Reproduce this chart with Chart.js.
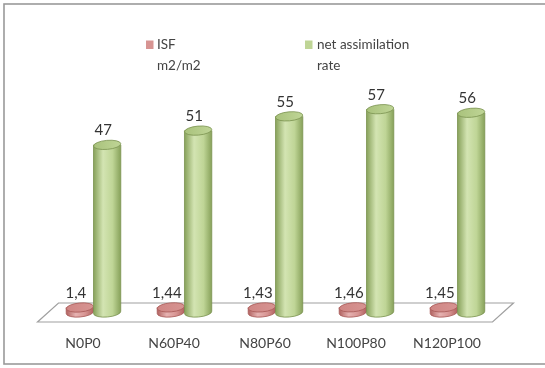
<!DOCTYPE html>
<html>
<head>
<meta charset="utf-8">
<script src="https://cdn.jsdelivr.net/npm/chart.js@4/dist/chart.umd.min.js"></script>
<style>
  html, body { margin: 0; padding: 0; background: #fff; }
  #wrap { width: 545px; height: 368px; position: relative; }
</style>
</head>
<body>
<div id="wrap"><canvas id="c" width="545" height="368"></canvas></div>
<script>
// Treatments (N/P fertiliser doses)
const categories = ['N0P0', 'N60P40', 'N80P60', 'N100P80', 'N120P100'];
// Leaf area index (ISF, m2/m2)
const isfValues = [1.4, 1.44, 1.43, 1.46, 1.45];
// Net assimilation rate
const narValues = [47, 51, 55, 57, 56];
// Legend text, wrapped as drawn
const isfLegend = ['ISF', 'm2/m2'];
const narLegend = ['net assimilation', 'rate'];
// Value labels use a decimal comma
const fmt = v => String(v).replace('.', ',');

const FONT = 'Lato, "Open Sans", sans-serif';
const DEPTH = 10.5;   // half depth of the floor, horizontal shift
const DEPTH_Y = 9.5;  // half depth of the floor, vertical shift

const palette = [
  { light: '#e6b3b2', mid: '#d79492', dark: '#b0615f', top: '#cf8684', line: '#a75856' },
  { light: '#d3e4b2', mid: '#bfd596', dark: '#87a15a', top: '#a9c27c', line: '#7a924f' }
];

function cylinder(ctx, x, top, base, w, c) {
  const rx = w / 2, ry = 4.5, tilt = -0.09;
  const l = x - rx, r = x + rx;
  // body with horizontal shading
  const g = ctx.createLinearGradient(l, 0, r, 0);
  g.addColorStop(0, c.dark);
  g.addColorStop(0.35, c.light);
  g.addColorStop(0.7, c.mid);
  g.addColorStop(1, c.dark);
  ctx.beginPath();
  ctx.moveTo(l, top);
  ctx.lineTo(l, base);
  ctx.ellipse(x, base, rx, ry, tilt, Math.PI, 0, true);
  ctx.lineTo(r, top);
  ctx.closePath();
  ctx.fillStyle = g;
  ctx.fill();
  ctx.strokeStyle = c.line;
  ctx.lineWidth = 0.8;
  ctx.beginPath();
  ctx.moveTo(l, top); ctx.lineTo(l, base);
  ctx.ellipse(x, base, rx, ry, tilt, Math.PI, 0, true);
  ctx.lineTo(r, top);
  ctx.stroke();
  // top cap
  ctx.beginPath();
  ctx.ellipse(x, top, rx, ry, tilt, 0, Math.PI * 2);
  const tg = ctx.createLinearGradient(l, 0, r, 0);
  tg.addColorStop(0, c.top);
  tg.addColorStop(1, c.mid);
  ctx.fillStyle = tg;
  ctx.fill();
  ctx.stroke();
}

const scene3d = {
  id: 'scene3d',
  beforeDraw(chart) {
    const { ctx, canvas } = chart;
    ctx.save();
    ctx.fillStyle = '#fff';
    ctx.fillRect(0, 0, canvas.width, canvas.height);
    // outer frame
    ctx.strokeStyle = '#9a9a9a';
    ctx.lineWidth = 1.6;
    ctx.strokeRect(4, 4, canvas.width + 10, canvas.height - 8);
    ctx.restore();
  },
  beforeDatasetsDraw(chart) {
    const { ctx, chartArea: a, scales: { y } } = chart;
    const y0 = y.getPixelForValue(0);
    ctx.save();
    ctx.beginPath();
    ctx.moveTo(a.left + DEPTH, y0 - DEPTH_Y);
    ctx.lineTo(a.right + DEPTH, y0 - DEPTH_Y);
    ctx.lineTo(a.right - DEPTH, y0 + DEPTH_Y);
    ctx.lineTo(a.left - DEPTH, y0 + DEPTH_Y);
    ctx.closePath();
    ctx.fillStyle = '#fff';
    ctx.fill();
    ctx.strokeStyle = '#a0a0a0';
    ctx.lineWidth = 1.2;
    ctx.stroke();
    ctx.restore();
  },
  afterDatasetsDraw(chart) {
    const { ctx, scales: { x, y } } = chart;
    ctx.save();
    chart.data.datasets.forEach((ds, di) => {
      const meta = chart.getDatasetMeta(di);
      meta.data.forEach((bar, i) => {
        cylinder(ctx, bar.x, bar.y, bar.base, bar.width, palette[di]);
      });
    });
    // value labels
    ctx.fillStyle = '#333333';
    ctx.font = '15px ' + FONT;
    ctx.textAlign = 'center';
    ctx.textBaseline = 'middle';
    chart.data.datasets.forEach((ds, di) => {
      const meta = chart.getDatasetMeta(di);
      meta.data.forEach((bar, i) => {
        ctx.fillText(fmt(ds.data[i]), bar.x - 4, bar.y - 14.5);
      });
    });
    // category labels along the front edge of the floor
    const y0 = y.getPixelForValue(0);
    ctx.fillStyle = '#444444';
    ctx.font = '14px ' + FONT;
    categories.forEach((c, i) => {
      ctx.fillText(c, x.getPixelForValue(i) - DEPTH, y0 + 31);
    });
    // legend
    const items = [
      { lines: isfLegend, c: palette[0], sx: 146, tx: 157 },
      { lines: narLegend, c: palette[1], sx: 305, tx: 317 }
    ];
    ctx.font = '13.5px ' + FONT;
    ctx.textAlign = 'left';
    items.forEach(it => {
      ctx.fillStyle = it.c.mid;
      ctx.fillRect(it.sx, 40.5, 7.5, 8.5);
      ctx.fillStyle = '#444444';
      it.lines.forEach((t, k) => ctx.fillText(t, it.tx, 45 + k * 21));
    });
    ctx.restore();
  }
};

new Chart(document.getElementById('c'), {
  type: 'bar',
  data: {
    labels: categories,
    datasets: [
      { label: isfLegend.join(' '), data: isfValues, backgroundColor: 'rgba(0,0,0,0)' },
      { label: narLegend.join(' '), data: narValues, backgroundColor: 'rgba(0,0,0,0)' }
    ]
  },
  options: {
    responsive: false,
    animation: false,
    events: [],
    categoryPercentage: 0.6,
    barPercentage: 1,
    layout: { padding: { left: 48, right: 42, top: 98.5, bottom: 55.5 } },
    plugins: { legend: { display: false }, tooltip: { enabled: false } },
    scales: {
      x: { display: false },
      y: { display: false, min: 0, max: 60 }
    }
  },
  plugins: [scene3d]
});
</script>
</body>
</html>
